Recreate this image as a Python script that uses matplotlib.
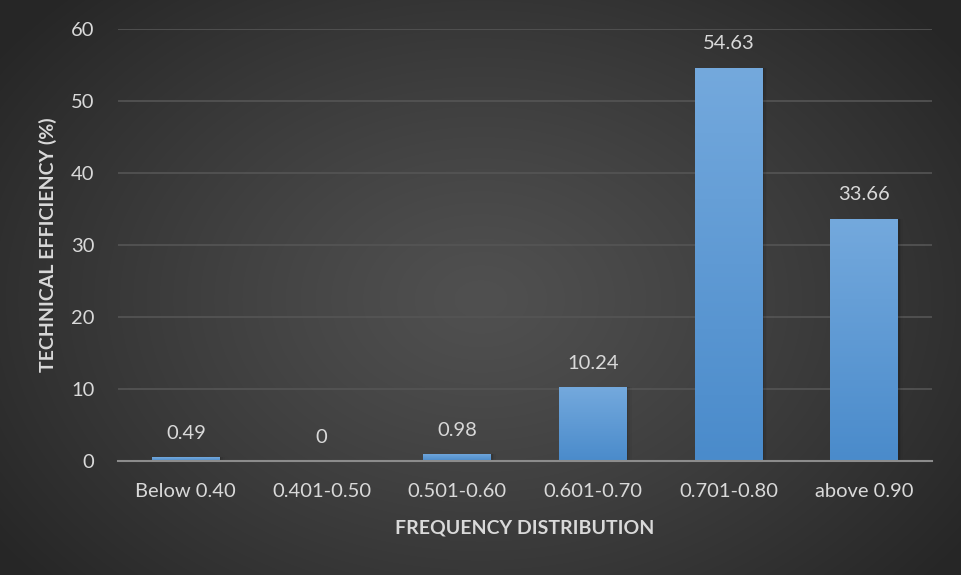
import numpy as np
import matplotlib
matplotlib.use("Agg")
import matplotlib.pyplot as plt
from matplotlib.colors import LinearSegmentedColormap

categories = ["Below 0.40", "0.401-0.50", "0.501-0.60", "0.601-0.70", "0.701-0.80", "above 0.90"]
values = [0.49, 0, 0.98, 10.24, 54.63, 33.66]
value_labels = ["0.49", "0", "0.98", "10.24", "54.63", "33.66"]
yticks = [0, 10, 20, 30, 40, 50, 60]

plt.rcParams['font.family'] = ['Lato', 'DejaVu Sans']
W, H = 961, 575
fig = plt.figure(figsize=(W/100, H/100), dpi=100)

# radial gradient background
bg = fig.add_axes([0, 0, 1, 1], zorder=-10)
yy, xx = np.mgrid[0:H, 0:W]
cx, cy = W*0.5, H*0.52
r = np.sqrt(((xx-cx)/(W*0.62))**2 + ((yy-cy)/(H*0.75))**2)
r = np.clip(r, 0, 1)
c_in, c_out = 0x50/255, 0x26/255
img = c_in + (c_out-c_in)*r**1.2
bg.imshow(np.dstack([img, img, img]), extent=[0, 1, 0, 1], aspect='auto', origin='upper')
bg.axis('off')

ax = fig.add_axes([118/W, (H-461)/H, 814/W, 432/H])
ax.patch.set_alpha(0)
x = np.arange(len(categories))
bars = ax.bar(x, values, width=0.5, color='#5b9bd5', zorder=3)

cmap = LinearSegmentedColormap.from_list('b', ['#4a8bcb', '#74a9dd'])
grad = np.linspace(0, 1, 256).reshape(-1, 1)
for b in bars:
    h = b.get_height()
    if h <= 0:
        continue
    x0 = b.get_x()
    im = ax.imshow(grad, cmap=cmap, extent=[x0, x0 + b.get_width(), 0, h],
                   origin='lower', aspect='auto', zorder=4)
    im.set_clip_path(b)
    # soft shadow
    for k, a in enumerate([0.10, 0.06, 0.03]):
        d = 0.008 * (k + 1)
        ax.bar(b.get_x() + b.get_width()/2 + d, h, width=b.get_width() + d, bottom=0,
               color='black', alpha=a, zorder=2, linewidth=0)

ax.set_xlim(-0.5, len(categories) - 0.5)
ax.set_ylim(0, 60)
ax.set_yticks(yticks)
ax.set_xticks(x)
ax.set_xticklabels(categories)
ax.tick_params(axis='both', length=0, colors='#d9d9d9', labelsize=14.5)
ax.tick_params(axis='y', pad=17)
ax.tick_params(axis='x', pad=16)
ax.grid(axis='y', color='#555555', linewidth=1.2, zorder=0)
for s in ['top', 'right', 'left']:
    ax.spines[s].set_visible(False)
ax.spines['bottom'].set_color('#8c8c8c')
ax.spines['bottom'].set_linewidth(1.5)
ax.spines['bottom'].set_zorder(5)

for xi, v, lab in zip(x, values, value_labels):
    ax.annotate(lab, (xi, v), xytext=(0, 11), textcoords='offset points',
                ha='center', va='bottom', color='#d9d9d9', fontsize=14.5)

fig.text(48/W, 1 - 245/H, "TECHNICAL EFFICIENCY (%)", rotation=90, ha='center', va='center',
         color='#d9d9d9', fontsize=14, fontweight='bold')
fig.text(525/W, 1 - 528/H, "FREQUENCY DISTRIBUTION", ha='center', va='center',
         color='#d9d9d9', fontsize=14, fontweight='bold')

fig.savefig("out.png", dpi=100)
